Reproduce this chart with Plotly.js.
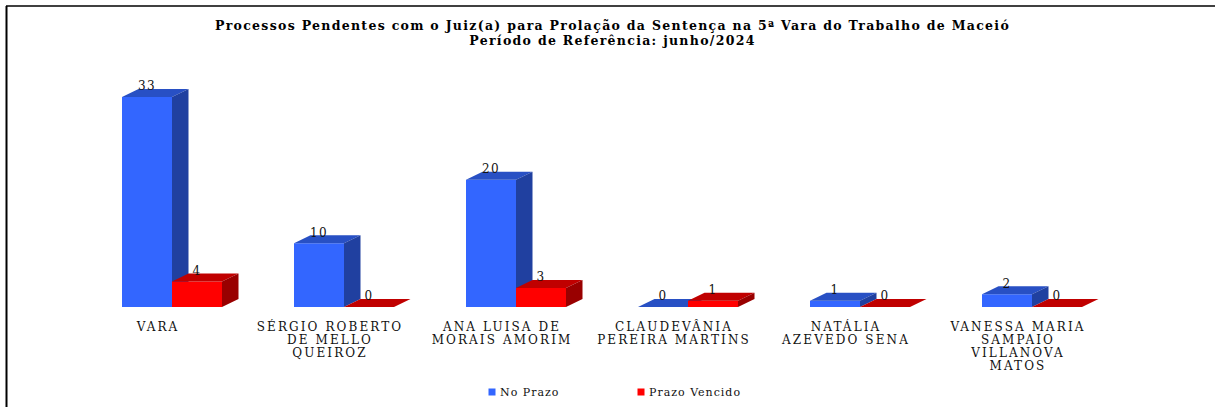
<!DOCTYPE html>
<html>
<head>
<meta charset="utf-8">
<script src="https://cdn.plot.ly/plotly-3.0.1.min.js"></script>
<style>
html,body{margin:0;padding:0;background:#fff;overflow:hidden}
.xtick text{letter-spacing:2.1px}
.gtitle{letter-spacing:1.3px}
.legendtext{letter-spacing:1px}
.textpoint text{letter-spacing:1.4px}
.legendpoints{transform:translateX(12px)}
</style>
</head>
<body>
<div id="chart" style="width:1215px;height:407px"></div>
<script>
const titleLines = ["Processos Pendentes com o Juiz(a) para Prolação da Sentença na 5ª Vara do Trabalho de Maceió", "Período de Referência: junho/2024"];
const categories = [
  ["VARA"],
  ["SÉRGIO ROBERTO", "DE MELLO", "QUEIROZ"],
  ["ANA LUISA DE", "MORAIS AMORIM"],
  ["CLAUDEVÂNIA", "PEREIRA MARTINS"],
  ["NATÁLIA", "AZEVEDO SENA"],
  ["VANESSA MARIA", "SAMPAIO", "VILLANOVA", "MATOS"]
];
const noPrazo = [33, 10, 20, 0, 1, 2];
const prazoVencido = [4, 0, 3, 1, 0, 0];

const W = 1215, H = 407, BASE = 307, PXU = 6.364, STEP = 172;
const BAR = 50 / STEP, DX = 16.5 / STEP, DY = 8 / PXU;
const xIdx = categories.map((_, i) => i);
const SERIF = 'DejaVu Serif';

function poly(name, vals, off, kind, color, xa, ya) {
  const x = [], y = [];
  vals.forEach((v, i) => {
    const l = i + off, r = l + BAR;
    if (kind === 'top') { x.push(l, l + DX, r + DX, r, l, null); y.push(v, v + DY, v + DY, v, v, null); }
    else if (v > 0) { x.push(r, r + DX, r + DX, r, r, null); y.push(0, DY, v + DY, v, 0, null); }
  });
  return {type:'scatter', mode:'lines', x, y, fill:'toself', fillcolor:color, line:{width:0},
          hoverinfo:'skip', showlegend:false, xaxis:xa, yaxis:ya, name, connectgaps:false};
}
function front(name, vals, off, color, xa, ya) {
  return {type:'bar', x:xIdx.map(i => i + off + BAR / 2), y:vals, width:BAR, name,
          marker:{color, line:{width:0}}, showlegend:false, xaxis:xa, yaxis:ya};
}
function labels(vals, off, xa, ya) {
  return {type:'scatter', mode:'text', x:xIdx.map(i => i + off + BAR / 2), y:vals.map(v => v + DY - 0.7),
          text:vals.map(String), textposition:'top center',
          textfont:{family:SERIF, size:12, color:'#111'},
          hoverinfo:'skip', showlegend:false, xaxis:xa, yaxis:ya, cliponaxis:false};
}
function key(name, color) {
  return {type:'scatter', mode:'markers', x:[null], y:[null], name,
          marker:{symbol:'square', size:7, color}, xaxis:'x2', yaxis:'y2'};
}

const BLUE = '#3366ff', BLUE_TOP = '#2850c4', BLUE_SIDE = '#2040a0';
const RED = '#ff0000', RED_TOP = '#c00000', RED_SIDE = '#990000';

const data = [
  poly('No Prazo topo', noPrazo, -BAR, 'top', BLUE_TOP, 'x', 'y'),
  poly('No Prazo lado', noPrazo, -BAR, 'side', BLUE_SIDE, 'x', 'y'),
  front('No Prazo', noPrazo, -BAR, BLUE, 'x', 'y'),
  labels(noPrazo, -BAR, 'x', 'y'),
  front('Prazo Vencido', prazoVencido, 0, RED, 'x2', 'y2'),
  poly('Prazo Vencido topo', prazoVencido, 0, 'top', RED_TOP, 'x2', 'y2'),
  poly('Prazo Vencido lado', prazoVencido, 0, 'side', RED_SIDE, 'x2', 'y2'),
  labels(prazoVencido, 0, 'x2', 'y2'),
  key('No Prazo', BLUE),
  key('Prazo Vencido', RED)
];

const xRange = [-1, (W - STEP) / STEP];
const yRange = [0, BASE / PXU];
const pad = s => '<span style="font-size:12px">' + s + '</span>';

const layout = {
  width: W, height: H,
  margin: {l:0, r:0, t:0, b:H - BASE, pad:0, autoexpand:false},
  paper_bgcolor:'#fff', plot_bgcolor:'rgba(0,0,0,0)',
  barmode:'overlay',
  font:{family:SERIF, color:'#111'},
  title:{
    text: titleLines.map(t => '<b><span style="font-size:12.5px">' + t + '</span></b>').join('<br>'),
    font:{family:SERIF, size:11.6, color:'#000'},
    x:612.5 / W, xanchor:'center', xref:'paper', y:1 - 30 / H, yanchor:'top', yref:'container', automargin:false
  },
  xaxis:{
    range:xRange, fixedrange:true, showgrid:false, zeroline:false, showline:false, ticks:'',
    tickmode:'array', tickvals:xIdx.map(i => i - 14 / STEP),
    ticktext:categories.map(c => c.map(pad).join('<br>')),
    tickangle:0, tickfont:{family:SERIF, size:10, color:'#111'}, automargin:false, ticklabelstandoff:13
  },
  yaxis:{range:yRange, fixedrange:true, visible:false},
  xaxis2:{range:xRange, overlaying:'x', fixedrange:true, visible:false},
  yaxis2:{range:yRange, overlaying:'y', fixedrange:true, visible:false},
  showlegend:true,
  legend:{
    orientation:'h', x:460 / W, xanchor:'left', y:(BASE - 392) / BASE, yanchor:'middle',
    entrywidth:104, entrywidthmode:'pixels', bgcolor:'rgba(0,0,0,0)',
    font:{family:SERIF, size:11, color:'#111'}, traceorder:'normal'
  },
  shapes:[
    {type:'line', xref:'paper', yref:'paper', x0:6/W, x1:1, y0:1 - 6/BASE, y1:1 - 6/BASE, line:{color:'#000', width:1.5}},
    {type:'line', xref:'paper', yref:'paper', x0:6.5/W, x1:6.5/W, y0:1 - 6/BASE, y1:(BASE - H)/BASE, line:{color:'#000', width:2}}
  ]
};
Plotly.newPlot('chart', data, layout, {displayModeBar:false, staticPlot:true});
</script>
</body>
</html>
